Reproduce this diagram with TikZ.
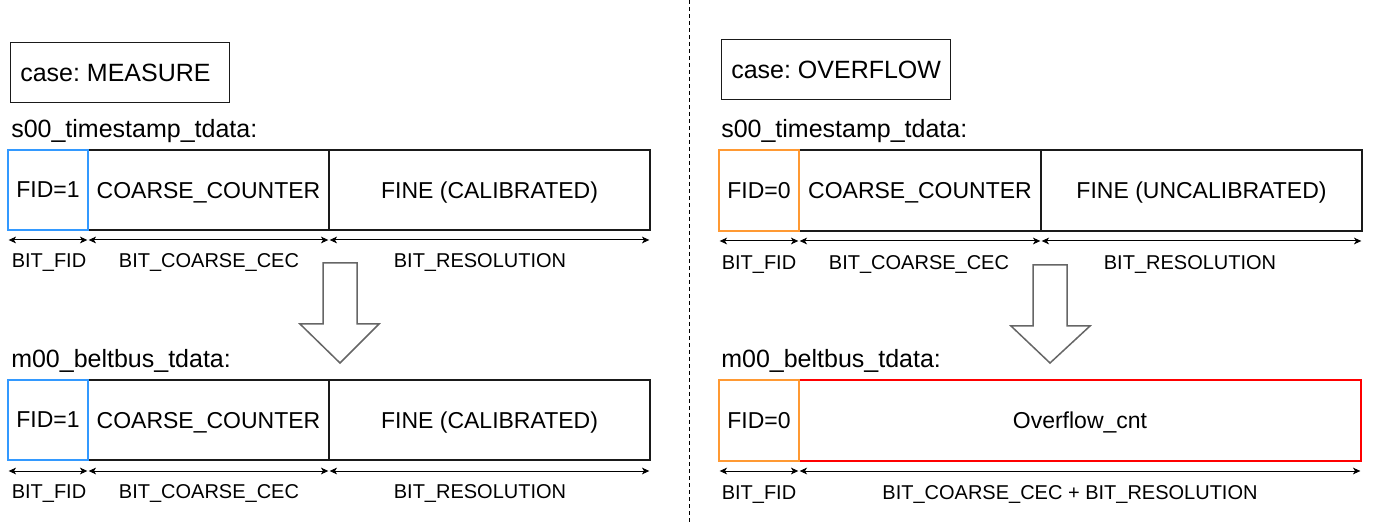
\documentclass[tikz,border=0pt]{standalone}
\usepackage{fontspec}
\setmainfont{Liberation Sans}
\usetikzlibrary{arrows.meta}
\definecolor{fidblue}{HTML}{3399FF}
\definecolor{fidorange}{HTML}{FF9933}
\definecolor{ovfred}{HTML}{FF0000}
\definecolor{bord}{HTML}{1A1A1A}
\definecolor{arrgray}{HTML}{666666}
\frenchspacing
\begin{document}
\begin{tikzpicture}[x=0.75pt,y=-0.75pt,
  cell/.style={draw=bord, line width=2pt*0.75, inner sep=0pt, outer sep=0pt,
    minimum height=80*0.75pt, text depth=-1.5pt, font=\fontsize{17.25pt}{20pt}\selectfont},
  casebox/.style={draw=bord, line width=1pt*0.75, inner sep=0pt, minimum height=60*0.75pt},
  title/.style={anchor=west, inner sep=0pt, font=\fontsize{18.75pt}{22pt}\selectfont},
  casetext/.style={anchor=west, inner sep=0pt, font=\fontsize{18.75pt}{22pt}\selectfont},
  dimlabel/.style={inner sep=0pt, font=\fontsize{15pt}{18pt}\selectfont},
  dim/.style={line width=0.75pt, {Stealth[length=5.5pt,width=5pt,inset=1.5pt]}-{Stealth[length=5.5pt,width=5pt,inset=1.5pt]}, shorten <=0.5pt, shorten >=0.5pt},
  bigarrow/.style={draw=arrgray, line width=1.5pt*0.75, fill=white, line join=miter}
]
\useasboundingbox (0,0) rectangle (1373,523);

% divider
\draw[line width=0.75pt, dash pattern=on 3pt off 2.25pt] (689,0) -- (689,523);

% ================= LEFT: MEASURE =================
\node[casebox, minimum width=219*0.75pt] (caseA) at (119.5,73) {};
\node[casetext] (caseAt) at (20,73) {case: MEASURE};
\node[title] (sA) at (11,131) {s00\_timestamp\_tdata:};

\node[cell, minimum width=241*0.75pt] (coaA) at (208.5,190) {COARSE\_COUNTER};
\node[cell, minimum width=321*0.75pt] (finA) at (489.5,190) {FINE (CALIBRATED)};
\node[cell, draw=fidblue, minimum width=80*0.75pt] (fidA) at (48,190) {FID=1};

\draw[dim] ([yshift=-10*0.75pt]fidA.south west) -- ([yshift=-10*0.75pt]fidA.south east);
\draw[dim] ([yshift=-10*0.75pt]coaA.south west) -- ([yshift=-10*0.75pt]coaA.south east);
\draw[dim] ([yshift=-10*0.75pt]finA.south west) -- ([yshift=-10*0.75pt]finA.south east);
\node[dimlabel] (lA1) at (49,263) {BIT\_FID};
\node[dimlabel] (lA2) at (209,263) {BIT\_COARSE\_CEC};
\node[dimlabel] (lA3) at (480,263) {BIT\_RESOLUTION};

\draw[bigarrow] (323,263) -- (357,263) -- (357,324) -- (379,324) -- (340,363) -- (300,324) -- (323,324) -- cycle;

\node[title] (mA) at (11,361) {m00\_beltbus\_tdata:};
\node[cell, minimum width=241*0.75pt] (coaB) at (208.5,420) {COARSE\_COUNTER};
\node[cell, minimum width=321*0.75pt] (finB) at (489.5,420) {FINE (CALIBRATED)};
\node[cell, draw=fidblue, minimum width=80*0.75pt] (fidB) at (48,420) {FID=1};

\draw[dim] ([yshift=-11*0.75pt]fidB.south west) -- ([yshift=-11*0.75pt]fidB.south east);
\draw[dim] ([yshift=-11*0.75pt]coaB.south west) -- ([yshift=-11*0.75pt]coaB.south east);
\draw[dim] ([yshift=-11*0.75pt]finB.south west) -- ([yshift=-11*0.75pt]finB.south east);
\node[dimlabel] (lB1) at (49,494) {BIT\_FID};
\node[dimlabel] (lB2) at (209,494) {BIT\_COARSE\_CEC};
\node[dimlabel] (lB3) at (480,494) {BIT\_RESOLUTION};

% ================= RIGHT: OVERFLOW =================
\node[casebox, minimum width=229*0.75pt] (caseC) at (835.5,70) {};
\node[casetext] (caseCt) at (731,70) {case: OVERFLOW};
\node[title] (sC) at (721,131) {s00\_timestamp\_tdata:};

\node[cell, minimum width=242*0.75pt, minimum height=81*0.75pt] (coaC) at (920,190.5) {COARSE\_COUNTER};
\node[cell, minimum width=321*0.75pt, minimum height=81*0.75pt] (finC) at (1201.5,190.5) {FINE (UNCALIBRATED)};
\node[cell, draw=fidorange, minimum width=80*0.75pt, minimum height=81*0.75pt] (fidC) at (759,190.5) {FID=0};

\draw[dim] ([yshift=-10*0.75pt]fidC.south west) -- ([yshift=-10*0.75pt]fidC.south east);
\draw[dim] ([yshift=-10*0.75pt]coaC.south west) -- ([yshift=-10*0.75pt]coaC.south east);
\draw[dim] ([yshift=-10*0.75pt]finC.south west) -- ([yshift=-10*0.75pt]finC.south east);
\node[dimlabel] (lC1) at (759,265) {BIT\_FID};
\node[dimlabel] (lC2) at (919,265) {BIT\_COARSE\_CEC};
\node[dimlabel] (lC3) at (1190,265) {BIT\_RESOLUTION};

\draw[bigarrow] (1033,265) -- (1067,265) -- (1067,326) -- (1090,326) -- (1050,363) -- (1011,326) -- (1033,326) -- cycle;

\node[title] (mC) at (721,361) {m00\_beltbus\_tdata:};
\node[cell, draw=ovfred, minimum width=562*0.75pt, minimum height=81*0.75pt] (ovfD) at (1080,420.5) {Overflow\_cnt};
\node[cell, draw=fidorange, minimum width=80*0.75pt, minimum height=81*0.75pt] (fidD) at (759,420.5) {FID=0};

\draw[dim] ([yshift=-10*0.75pt]fidD.south west) -- ([yshift=-10*0.75pt]fidD.south east);
\draw[dim] ([yshift=-10*0.75pt]ovfD.south west) -- ([yshift=-10*0.75pt]ovfD.south east);
\node[dimlabel] (lD1) at (759,495) {BIT\_FID};
\node[dimlabel] (lD2) at (1070,495) {BIT\_COARSE\_CEC + BIT\_RESOLUTION};
\end{tikzpicture}
\end{document}
